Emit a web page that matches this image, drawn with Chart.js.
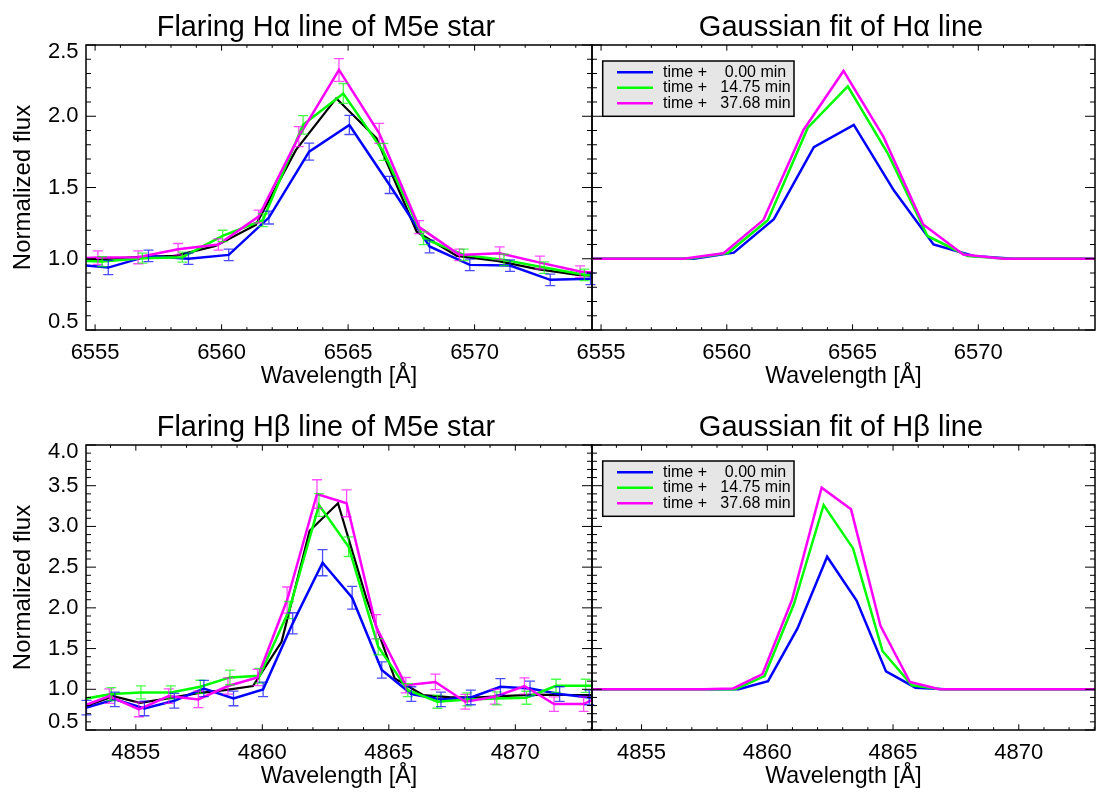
<!DOCTYPE html>
<html>
<head>
<meta charset="utf-8">
<script src="https://cdn.jsdelivr.net/npm/chart.js@4.4.1/dist/chart.umd.min.js"></script>
<style>
html, body { margin: 0; padding: 0; background: #fff; overflow: hidden; width: 1099px; height: 794px; }
canvas { position: absolute; }
</style>
</head>
<body>
<canvas id="haData" width="596" height="397" style="left:0px;top:0px"></canvas>
<canvas id="haFit" width="539" height="397" style="left:560px;top:0px"></canvas>
<canvas id="hbData" width="596" height="397" style="left:0px;top:400px"></canvas>
<canvas id="hbFit" width="539" height="397" style="left:560px;top:400px"></canvas>
<script>
// ---- H-alpha (top row) ----
const haRange = [6554.64, 6574.64];
const haXTicks = [6555, 6560, 6565, 6570];
const haYTicks = [0.5, 1.0, 1.5, 2.0, 2.5];

const haBlueWave = [6553.93, 6555.52, 6557.11, 6558.69, 6560.28, 6561.87, 6563.46, 6565.05, 6566.64, 6568.22, 6569.81, 6571.40, 6572.99, 6574.58];
const haBlueFlux = [0.963, 0.938, 1.02, 1.0, 1.027, 1.289, 1.752, 1.939, 1.518, 1.086, 0.957, 0.952, 0.852, 0.859];
const haBlueErr  = [0.05, 0.05, 0.04, 0.04, 0.04, 0.045, 0.06, 0.067, 0.06, 0.045, 0.04, 0.04, 0.04, 0.04];
const haBlueFit  = [1.0, 1.0, 1.0, 1.0, 1.043, 1.278, 1.783, 1.939, 1.48, 1.10, 1.02, 1.0, 1.0, 1.0];

const haGreenWave = [6553.69, 6555.28, 6556.87, 6558.45, 6560.04, 6561.63, 6563.22, 6564.81, 6566.40, 6567.98, 6569.57, 6571.16, 6572.75, 6574.34, 6575.93];
const haGreenFlux = [0.99, 0.98, 1.004, 1.011, 1.16, 1.27, 1.94, 2.16, 1.75, 1.144, 1.027, 0.992, 0.938, 0.887, 0.87];
const haGreenErr  = [0.04, 0.035, 0.035, 0.035, 0.04, 0.045, 0.065, 0.07, 0.06, 0.045, 0.04, 0.04, 0.04, 0.04, 0.04];
const haGreenFit  = [1.0, 1.0, 1.0, 1.0, 1.04, 1.27, 1.92, 2.21, 1.74, 1.16, 1.02, 1.0, 1.0, 1.0, 1.0];

const haMagentaWave = [6553.52, 6555.11, 6556.70, 6558.28, 6559.87, 6561.46, 6563.05, 6564.64, 6566.23, 6567.81, 6569.40, 6570.99, 6572.58, 6574.17, 6575.76];
const haMagentaFlux = [1.0, 1.008, 1.01, 1.067, 1.10, 1.296, 1.857, 2.325, 1.88, 1.222, 1.027, 1.039, 0.973, 0.91, 0.89];
const haMagentaErr  = [0.045, 0.047, 0.045, 0.04, 0.04, 0.045, 0.07, 0.08, 0.07, 0.045, 0.04, 0.045, 0.045, 0.04, 0.04];
const haMagentaFit  = [1.0, 1.0, 1.0, 1.0, 1.039, 1.273, 1.904, 2.318, 1.855, 1.24, 1.03, 1.0, 1.0, 1.0, 1.0];

const haBlackWave = [6553.41, 6555.00, 6556.59, 6558.17, 6559.76, 6561.35, 6562.94, 6564.53, 6566.12, 6567.71, 6569.30, 6570.89, 6572.48, 6574.07, 6575.66];
const haBlackFlux = [1.0, 0.992, 1.011, 1.02, 1.09, 1.237, 1.764, 2.126, 1.846, 1.19, 1.02, 0.985, 0.927, 0.887, 0.87];

// ---- H-beta (bottom row) ----
const hbRange = [4853.03, 4873.03];
const hbXTicks = [4855, 4860, 4865, 4870];
const hbYTicks = [0.5, 1.0, 1.5, 2.0, 2.5, 3.0, 3.5, 4.0];

const hbBlueWave = [4853.05, 4854.17, 4855.34, 4856.52, 4857.69, 4858.86, 4860.03, 4861.20, 4862.38, 4863.55, 4864.72, 4865.89, 4867.06, 4868.24, 4869.41, 4870.58, 4871.75, 4872.92, 4874.09];
const hbBlueFlux = [0.775, 0.876, 0.765, 0.859, 1.01, 0.888, 0.999, 1.81, 2.554, 2.124, 1.236, 0.941, 0.876, 0.90, 1.031, 1.01, 0.941, 0.90, 0.90];
const hbBlueErr  = [0.09, 0.09, 0.09, 0.09, 0.1, 0.09, 0.09, 0.13, 0.16, 0.14, 0.1, 0.09, 0.09, 0.09, 0.1, 0.09, 0.09, 0.09, 0.09];
const hbBlueFit  = [1.0, 1.0, 1.0, 1.0, 1.0, 1.0, 1.10, 1.748, 2.628, 2.09, 1.22, 1.02, 1.0, 1.0, 1.0, 1.0, 1.0, 1.0, 1.0];

const hbGreenWave = [4852.86, 4854.03, 4855.20, 4856.38, 4857.55, 4858.72, 4859.89, 4861.06, 4862.24, 4863.41, 4864.58, 4865.75, 4866.92, 4868.10, 4869.27, 4870.44, 4871.61, 4872.78, 4873.95];
const hbGreenFlux = [0.876, 0.941, 0.962, 0.962, 1.031, 1.146, 1.166, 1.973, 3.263, 2.751, 1.522, 0.99, 0.847, 0.876, 0.888, 0.896, 1.043, 1.043, 1.05];
const hbGreenErr  = [0.08, 0.08, 0.08, 0.08, 0.08, 0.09, 0.09, 0.105, 0.14, 0.12, 0.1, 0.08, 0.08, 0.08, 0.08, 0.08, 0.08, 0.08, 0.08];
const hbGreenFit  = [1.0, 1.0, 1.0, 1.0, 1.0, 1.0, 1.162, 2.047, 3.263, 2.73, 1.47, 1.05, 1.0, 1.0, 1.0, 1.0, 1.0, 1.0, 1.0];

const hbMagentaWave = [4852.78, 4853.95, 4855.12, 4856.30, 4857.47, 4858.64, 4859.81, 4860.98, 4862.16, 4863.33, 4864.50, 4865.67, 4866.84, 4868.02, 4869.19, 4870.36, 4871.53, 4872.70, 4873.87];
const hbMagentaFlux = [0.78, 0.916, 0.753, 0.916, 0.876, 1.04, 1.146, 2.096, 3.398, 3.284, 1.768, 1.05, 1.09, 0.847, 0.908, 1.04, 0.818, 0.818, 1.0];
const hbMagentaErr  = [0.09, 0.09, 0.09, 0.09, 0.1, 0.1, 0.1, 0.16, 0.175, 0.165, 0.15, 0.095, 0.095, 0.09, 0.09, 0.1, 0.09, 0.09, 0.09];
const hbMagentaFit  = [1.0, 1.0, 1.0, 1.0, 1.0, 1.01, 1.187, 2.096, 3.476, 3.21, 1.78, 1.09, 1.0, 1.0, 1.0, 1.0, 1.0, 1.0, 1.0];

const hbBlackWave = [4852.99, 4854.11, 4855.16, 4856.28, 4857.40, 4858.52, 4859.63, 4860.76, 4861.87, 4862.99, 4864.11, 4865.23, 4866.35, 4867.47, 4868.58, 4869.70, 4870.82, 4871.94, 4873.06];
const hbBlackFlux = [0.79, 0.916, 0.834, 0.888, 0.95, 0.99, 1.04, 1.584, 2.947, 3.284, 2.12, 1.134, 0.929, 0.90, 0.90, 0.92, 0.935, 0.93, 0.93];

const legendLabels = ['time +    0.00 min', 'time +   14.75 min', 'time +   37.68 min'];
const BLUE = '#0000ff', GREEN = '#00ff00', MAGENTA = '#ff00ff';
const FONT = '"Liberation Sans", Helvetica, Arial, sans-serif';

function pts(w, f) { return w.map((x, i) => ({ x: x, y: f[i] })); }

function series(w, f, color, err, width) {
  return { data: pts(w, f), borderColor: color, borderWidth: width || 2.5, pointRadius: 0,
           tension: 0, clip: 0, fill: false, errors: err };
}

function line(ctx, x1, y1, x2, y2) { ctx.moveTo(x1, y1); ctx.lineTo(x2, y2); }

// frame, inward ticks, y labels, title, error bars, legend
const framePlugin = {
  id: 'frame',
  afterDatasetsDraw(chart) {
    const { ctx } = chart;
    const xs = chart.scales.x, ys = chart.scales.y;
    ctx.save();
    chart.data.datasets.forEach(ds => {
      if (!ds.errors) return;
      ctx.strokeStyle = ds.borderColor;
      ctx.globalAlpha = 0.7;
      ctx.lineWidth = 1.3;
      ctx.beginPath();
      ds.data.forEach((p, i) => {
        if (p.x < xs.min || p.x > xs.max) return;
        const px = xs.getPixelForValue(p.x);
        const lo = ys.getPixelForValue(p.y - ds.errors[i]);
        const hi = ys.getPixelForValue(p.y + ds.errors[i]);
        line(ctx, px, lo, px, hi);
        line(ctx, px - 5, lo, px + 5, lo);
        line(ctx, px - 5, hi, px + 5, hi);
      });
      ctx.stroke();
    });
    ctx.restore();
  },
  afterDraw(chart, args, opts) {
    const { ctx, chartArea: a } = chart;
    const xs = chart.scales.x, ys = chart.scales.y;
    ctx.save();
    ctx.strokeStyle = '#000';
    ctx.lineWidth = 1;
    ctx.beginPath();
    for (let v = Math.ceil(xs.min); v <= xs.max; v++) {
      const px = xs.getPixelForValue(v);
      const len = v % 5 === 0 ? 5.7 : 2.85;
      line(ctx, px, a.bottom, px, a.bottom - len);
      line(ctx, px, a.top, px, a.top + len);
    }
    for (let k = Math.ceil(ys.min * 10 - 1e-6); k <= ys.max * 10 + 1e-6; k++) {
      const py = ys.getPixelForValue(k / 10);
      const len = k % 5 === 0 ? 10 : 5;
      line(ctx, a.left, py, a.left + len, py);
      line(ctx, a.right, py, a.right - len, py);
    }
    ctx.stroke();
    ctx.lineWidth = 1.5;
    ctx.strokeRect(a.left, a.top, a.right - a.left, a.bottom - a.top);

    ctx.fillStyle = '#000';
    if (opts.yTicks) {
      ctx.font = '22px ' + FONT;
      ctx.textAlign = 'right';
      ctx.textBaseline = 'middle';
      opts.yTicks.forEach(v => {
        let py = ys.getPixelForValue(v);
        py = Math.min(Math.max(py, a.top + 7), a.bottom - 8);
        ctx.fillText(v.toFixed(1), a.left - 7.5, py);
      });
    }
    ctx.font = opts.titleSize + 'px ' + FONT;
    ctx.textAlign = 'center';
    ctx.textBaseline = 'alphabetic';
    ctx.fillText(opts.title, opts.titleX, 36);

    if (opts.legend) {
      const bx = a.left + 10.7, by = a.top + 16;
      ctx.fillStyle = '#e6e6e6';
      ctx.fillRect(bx, by, 191.3, 55.3);
      ctx.lineWidth = 1.5;
      ctx.strokeRect(bx, by, 191.3, 55.3);
      ctx.font = '16px ' + FONT;
      ctx.textAlign = 'left';
      ctx.textBaseline = 'middle';
      opts.legend.forEach((lab, i) => {
        const ry = a.top + 27.3 + i * 15.5;
        ctx.strokeStyle = opts.legendColors[i];
        ctx.lineWidth = 2.5;
        ctx.beginPath();
        line(ctx, a.left + 25, ry, a.left + 61, ry);
        ctx.stroke();
        ctx.fillStyle = '#000';
        ctx.fillText(lab, a.left + 71, ry);
      });
    }
    ctx.restore();
  }
};

function makeChart(id, datasets, range, xTicks, yMin, yMax, yTicks, left, frameOpts) {
  return new Chart(document.getElementById(id), {
    type: 'line',
    data: { datasets: datasets },
    options: {
      responsive: false,
      animation: false,
      events: [],
      layout: { padding: { top: 45, left: left ? 0 : 32, right: 4, bottom: 0 } },
      plugins: { legend: { display: false }, tooltip: { enabled: false }, frame: frameOpts },
      scales: {
        x: {
          type: 'linear', min: range[0], max: range[1],
          grid: { display: false, drawTicks: false }, border: { display: false },
          afterBuildTicks: s => { s.ticks = xTicks.map(v => ({ value: v })); },
          afterFit: s => { s.height = 67; },
          ticks: { autoSkip: false, maxRotation: 0, padding: 9.3, color: '#000',
                   font: { family: FONT, size: 22 }, callback: v => String(v) },
          title: { display: true, text: 'Wavelength [Å]', color: '#000',
                   font: { family: FONT, size: 23.2 }, padding: { top: 0, bottom: 6 } }
        },
        y: {
          type: 'linear', min: yMin, max: yMax, display: left,
          grid: { display: false, drawTicks: false }, border: { display: false },
          afterBuildTicks: s => { s.ticks = yTicks.map(v => ({ value: v })); },
          afterFit: s => { s.width = left ? 86 : 0; },
          ticks: { display: false },
          title: { display: true, text: 'Normalized flux', color: '#000',
                   font: { family: FONT, size: 24 }, padding: { top: 9, bottom: 0 } }
        }
      }
    },
    plugins: [framePlugin]
  });
}

makeChart('haData', [
  series(haMagentaWave, haMagentaFlux, MAGENTA, haMagentaErr),
  series(haGreenWave, haGreenFlux, GREEN, haGreenErr),
  series(haBlueWave, haBlueFlux, BLUE, haBlueErr),
  series(haBlackWave, haBlackFlux, '#000', null, 2.2)
], haRange, haXTicks, 0.5, 2.5, haYTicks, true,
  { title: 'Flaring Hα line of M5e star', titleX: 326, titleSize: 28.8, yTicks: haYTicks });

makeChart('haFit', [
  series(haMagentaWave, haMagentaFit, MAGENTA),
  series(haGreenWave, haGreenFit, GREEN),
  series(haBlueWave, haBlueFit, BLUE)
], haRange, haXTicks, 0.5, 2.5, haYTicks, false,
  { title: 'Gaussian fit of Hα line', titleX: 281, titleSize: 29, legend: legendLabels, legendColors: [BLUE, GREEN, MAGENTA] });

makeChart('hbData', [
  series(hbMagentaWave, hbMagentaFlux, MAGENTA, hbMagentaErr),
  series(hbGreenWave, hbGreenFlux, GREEN, hbGreenErr),
  series(hbBlueWave, hbBlueFlux, BLUE, hbBlueErr),
  series(hbBlackWave, hbBlackFlux, '#000', null, 2.2)
], hbRange, hbXTicks, 0.5, 4.0, hbYTicks, true,
  { title: 'Flaring Hβ line of M5e star', titleX: 326, titleSize: 28.8, yTicks: hbYTicks });

makeChart('hbFit', [
  series(hbMagentaWave, hbMagentaFit, MAGENTA),
  series(hbGreenWave, hbGreenFit, GREEN),
  series(hbBlueWave, hbBlueFit, BLUE)
], hbRange, hbXTicks, 0.5, 4.0, hbYTicks, false,
  { title: 'Gaussian fit of Hβ line', titleX: 281, titleSize: 29, legend: legendLabels, legendColors: [BLUE, GREEN, MAGENTA] });
</script>
</body>
</html>
